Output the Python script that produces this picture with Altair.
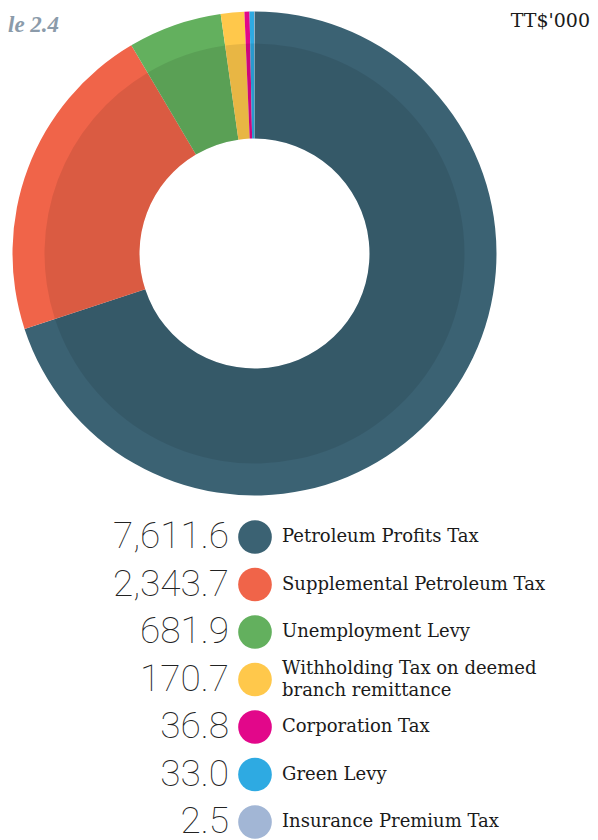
import altair as alt
import pandas as pd

categories = ["Petroleum Profits Tax", "Supplemental Petroleum Tax", "Unemployment Levy",
              "Withholding Tax on deemed branch remittance", "Corporation Tax",
              "Green Levy", "Insurance Premium Tax"]
values = [7611.6, 2343.7, 681.9, 170.7, 36.8, 33.0, 2.5]
value_labels = ["7,611.6", "2,343.7", "681.9", "170.7", "36.8", "33.0", "2.5"]
display_labels = ["Petroleum Profits Tax", "Supplemental Petroleum Tax", "Unemployment Levy",
                  "Withholding Tax on deemed\nbranch remittance", "Corporation Tax",
                  "Green Levy", "Insurance Premium Tax"]
line_counts = [1, 1, 1, 2, 1, 1, 1]
colors = ["#3b6273", "#f06449", "#63b05e", "#ffc84b", "#e2078a", "#2eaae2", "#a2b6d5"]

df = pd.DataFrame({
    "cat": categories,
    "value": values,
    "vlabel": value_labels,
    "label": display_labels,
    "lines": line_counts,
    "idx": list(range(len(categories))),
})

CX, CY = 246.5, 245.5
color_scale = alt.Scale(domain=categories, range=colors)
base = alt.Chart(df)

ring = base.mark_arc(outerRadius=242, innerRadius=115).encode(
    theta=alt.Theta("value:Q", stack=True),
    color=alt.Color("cat:N", scale=color_scale, legend=None),
    order=alt.Order("idx:Q"),
    x=alt.value(CX), y=alt.value(CY),
)

shade = base.mark_arc(outerRadius=210, innerRadius=115, color="black", opacity=0.09).encode(
    theta=alt.Theta("value:Q", stack=True),
    detail="cat:N",
    order=alt.Order("idx:Q"),
    x=alt.value(CX), y=alt.value(CY),
)

yenc = alt.Y("cat:N", scale=alt.Scale(type="point", domain=categories, range=[529, 814], padding=0), axis=None)

dots = base.mark_circle(size=1134, opacity=1).encode(
    y=yenc,
    x=alt.value(247),
    color=alt.Color("cat:N", scale=color_scale, legend=None),
)

nums = base.mark_text(align="right", baseline="middle", font="Roboto", fontWeight=100,
                      fontSize=37, color="#222222").encode(
    y=yenc, x=alt.value(221), text="vlabel:N",
)

label_style = dict(align="left", baseline="middle", font="DejaVu Serif", fontSize=18,
                   color="#1a1a1a", lineBreak="\n", lineHeight=22)

labs1 = base.transform_filter("datum.lines == 1").mark_text(**label_style).encode(
    y=yenc, x=alt.value(274), text="label:N",
)
labs2 = base.transform_filter("datum.lines == 2").mark_text(dy=-11, **label_style).encode(
    y=yenc, x=alt.value(274), text="label:N",
)

title = alt.Chart(pd.DataFrame({"t": ["le 2.4"]})).mark_text(
    align="left", baseline="alphabetic", font="Liberation Serif", fontStyle="italic",
    fontWeight="bold", fontSize=23, color="#8b9baa",
).encode(x=alt.value(0), y=alt.value(24), text="t:N")

unit = alt.Chart(pd.DataFrame({"t": ["TT$'000"]})).mark_text(
    align="right", baseline="alphabetic", font="DejaVu Serif", fontSize=19, color="#1a1a1a",
).encode(x=alt.value(582), y=alt.value(19), text="t:N")

chart = alt.layer(ring, shade, dots, nums, labs1, labs2, title, unit).properties(
    width=582, height=832, padding=0, autosize=alt.AutoSizeParams(type="none"),
).configure_view(stroke=None)

chart.save("out.html", embed_options={"renderer": "svg", "actions": False})
